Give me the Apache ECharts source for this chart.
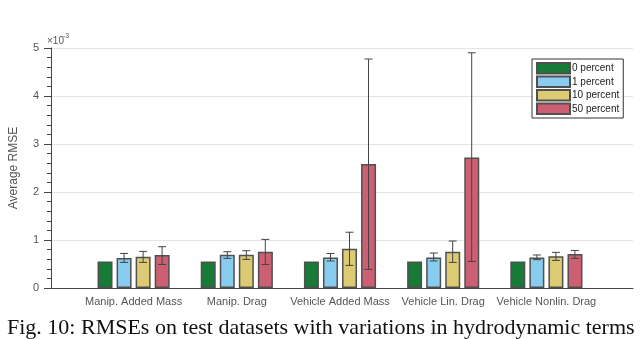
<html>
<meta charset="UTF-8">
<head>
<script src="https://cdn.jsdelivr.net/npm/echarts@6/dist/echarts.min.js"></script>
<style>
  html, body { margin: 0; padding: 0; background: #fff; }
</style>
</head>
<body>
	<div id="barEcharts" style="height: 339px; width: 640px"></div>
</body>
<script>
	// values are in units of 1e-3 (axis shows x10^-3)
	var categories = ['Manip. Added Mass', 'Manip. Drag', 'Vehicle Added Mass', 'Vehicle Lin. Drag', 'Vehicle Nonlin. Drag'];
	var seriesNames = ['0 percent', '1 percent', '10 percent', '50 percent'];
	var yTicks = [0, 1, 2, 3, 4, 5];

	var p0 = [0.55, 0.55, 0.554, 0.554, 0.55];
	var p1 = [0.625, 0.694, 0.638, 0.638, 0.638];
	var p10 = [0.652, 0.694, 0.819, 0.756, 0.66];
	var p50 = [0.688, 0.756, 2.583, 2.72, 0.708];

	// error bar low / high ends (0 percent has none)
	var p1Low = [0.533, 0.617, 0.563, 0.563, 0.59];
	var p1High = [0.72, 0.756, 0.72, 0.729, 0.688];
	var p10Low = [0.533, 0.596, 0.471, 0.533, 0.575];
	var p10High = [0.763, 0.777, 1.162, 0.979, 0.742];
	var p50Low = [0.49, 0.49, 0.388, 0.554, 0.617];
	var p50High = [0.86, 1.013, 4.77, 4.90, 0.783];

	var colors = ['#177a37', '#88cdef', '#dccb72', '#cc6072'];
	var barW = 15, pitch = 19;

	var barEcharts = echarts.init(document.getElementById('barEcharts'));

	function barSeries(name, data, color) {
		return {
			name: name,
			type: 'bar',
			xAxisIndex: 1,
			yAxisIndex: 1,
			barWidth: barW,
			barGap: '27%',
			itemStyle: { color: color, borderColor: '#505050', borderWidth: 1.5 },
			data: data
		};
	}

	function errSeries(k, low, high) {
		var offset = (k - 1.5) * pitch;
		var data = [];
		for (var i = 0; i < low.length; i++) {
			data.push([i, low[i], high[i]]);
		}
		return {
			name: 'err' + k,
			type: 'custom',
			xAxisIndex: 1,
			yAxisIndex: 1,
			z: 5,
			silent: true,
			encode: { x: 0, y: [1, 2] },
			data: data,
			renderItem: function(params, api) {
				var top = api.coord([api.value(0), api.value(2)]);
				var bot = api.coord([api.value(0), api.value(1)]);
				var x = top[0] + offset;
				var st = { stroke: '#444', lineWidth: 1 };
				return {
					type: 'group',
					children: [
						{ type: 'line', shape: { x1: x, y1: top[1], x2: x, y2: bot[1] }, style: st },
						{ type: 'line', shape: { x1: x - 4, y1: top[1], x2: x + 4, y2: top[1] }, style: st },
						{ type: 'line', shape: { x1: x - 4, y1: bot[1], x2: x + 4, y2: bot[1] }, style: st }
					]
				};
			}
		};
	}

	var option = {
		animation: false,
		textStyle: { fontFamily: 'Liberation Sans' },
		grid: [
			{ left: 46, top: 48, width: 587, height: 240 },
			{ left: 82, top: 48, width: 516, height: 240 }
		],
		legend: {
			data: seriesNames,
			orient: 'vertical',
			left: 532,
			top: 59,
			padding: [3, 4, 3, 4],
			itemWidth: 33,
			itemHeight: 10.5,
			itemGap: 1,
			icon: 'rect',
			backgroundColor: '#fff',
			borderColor: '#333',
			borderWidth: 1,
			borderRadius: 0,
			textStyle: { fontSize: 10, color: '#222', padding: [0, 0, 0, -3] }
		},
		xAxis: [
			{
				type: 'value', gridIndex: 0, min: 0, max: 1,
				axisLine: { show: true, lineStyle: { color: '#444', width: 1 } },
				axisTick: { show: false }, axisLabel: { show: false }, splitLine: { show: false }
			},
			{
				type: 'category', gridIndex: 1, data: categories,
				axisLine: { show: false }, axisTick: { show: false },
				axisLabel: { color: '#555', fontSize: 11, margin: 8, interval: 0 }
			}
		],
		yAxis: [
			{
				type: 'value', gridIndex: 0, min: yTicks[0], max: yTicks[yTicks.length - 1], interval: 1,
				name: 'Average RMSE', nameLocation: 'middle', nameGap: 31,
				nameTextStyle: { color: '#555', fontSize: 12 },
				axisLine: { show: true, lineStyle: { color: '#444', width: 1 } },
				axisTick: { show: true, inside: false, length: 7, lineStyle: { color: '#444' } },
				minorTick: { show: true, splitNumber: 5, length: 4, lineStyle: { color: '#444' } },
				axisLabel: { color: '#555', fontSize: 11, margin: 12 },
				splitLine: { show: true, lineStyle: { color: '#e4e4e4', width: 1 } }
			},
			{ type: 'value', gridIndex: 1, min: 0, max: 5, show: false }
		],
		graphic: [
			{ type: 'text', left: 47, top: 36, style: { text: '\u00d710', fill: '#555', font: '10px Liberation Sans' } },
			{ type: 'text', left: 63, top: 33, style: { text: '-3', fill: '#555', font: '7px Liberation Sans' } },
			{ type: 'text', left: 7, top: 317, style: { text: 'Fig. 10: RMSEs on test datasets with variations in hydrodynamic terms', fill: '#111', font: '22px Liberation Serif' } }
		],
		series: [
			barSeries(seriesNames[0], p0, colors[0]),
			barSeries(seriesNames[1], p1, colors[1]),
			barSeries(seriesNames[2], p10, colors[2]),
			barSeries(seriesNames[3], p50, colors[3]),
			errSeries(1, p1Low, p1High),
			errSeries(2, p10Low, p10High),
			errSeries(3, p50Low, p50High)
		]
	};
	barEcharts.setOption(option);
</script>
</html>
